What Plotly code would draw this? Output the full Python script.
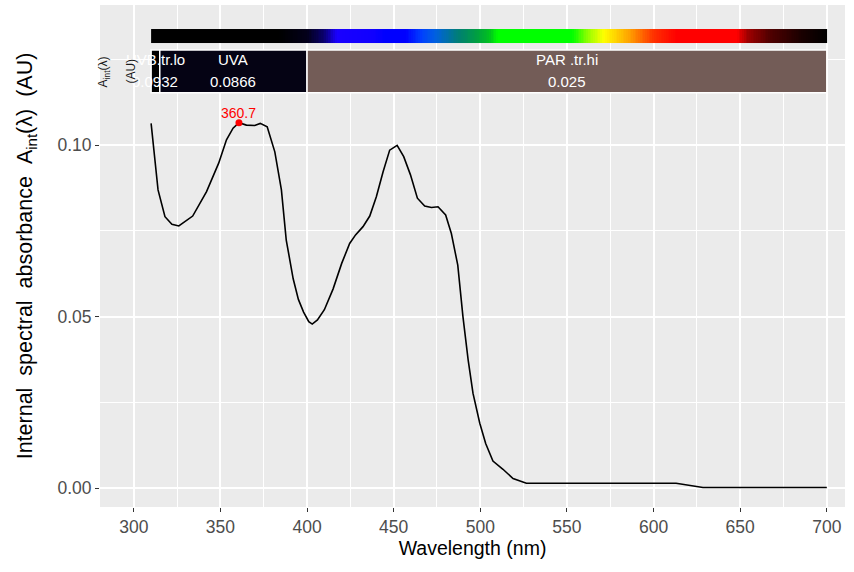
import plotly.graph_objects as go

# ---- data ----
wavelength = [310, 314, 318, 322, 326, 334, 342, 349, 353.5, 357.3, 360.7, 365, 369.8,
              373, 377, 381.4, 385.2, 388, 392, 395, 398, 401, 403, 406, 410, 415, 420,
              424.6, 428, 432.3, 436.2, 440, 443.9, 447.7, 452, 455.8, 459.7, 463.7,
              467.9, 471.8, 475.6, 480, 483.3, 487, 490, 493, 495.8, 499.7, 503.1,
              507.3, 513.1, 518.9, 526.6, 535, 548, 569, 590, 613, 628.5, 650, 675, 700]
absorbance = [0.1063, 0.0869, 0.0791, 0.0769, 0.0764, 0.0793, 0.0864, 0.0947, 0.1015,
              0.1049, 0.1065, 0.1058, 0.1057, 0.1063, 0.1053, 0.0980, 0.0869, 0.0723,
              0.0610, 0.0550, 0.0513, 0.0485, 0.0478, 0.0490, 0.0520, 0.0580, 0.0655,
              0.0713, 0.0738, 0.0762, 0.0793, 0.0849, 0.0922, 0.0985, 0.0999, 0.0966,
              0.0913, 0.0845, 0.0822, 0.0818, 0.0820, 0.0796, 0.0742, 0.0650, 0.0499,
              0.0373, 0.0276, 0.0189, 0.0130, 0.0079, 0.0055, 0.0028, 0.0014, 0.0014,
              0.0016, 0.0014, 0.0014, 0.0014, 0.0002, 0.0002, 0.0002, 0.0002]

peak_wl = 360.7
peak_val = 0.1065

band_names = ["UVB.tr.lo", "UVA", "PAR .tr.hi"]
band_lo = [310, 315, 400]
band_hi = [315, 400, 700]
band_values = ["0.0932", "0.0866", "0.025"]
band_colors = ["#000000", "#050314", "#735c57"]

x_ticks = [300, 350, 400, 450, 500, 550, 600, 650, 700]
y_ticks = [0.00, 0.05, 0.10]
y_tick_labels = ["0.00", "0.05", "0.10"]

# spectrum colour bar (wavelength -> colour stops)
spec_edges = list(range(310, 701))
spec_mid = [w + 0.5 for w in range(310, 700)]
spec_stops = [(310, "#000000"), (384, "#000000"), (400, "#03001a"), (410, "#0a0070"),
              (417, "#1a00ff"), (438, "#1000ff"), (445, "#0000ff"), (457, "#0000ff"),
              (466, "#0040ff"), (474, "#0060e0"), (488, "#008070"), (498, "#00a040"),
              (505, "#00c020"), (510, "#00ff00"), (553, "#00ff00"), (563, "#a0ff00"),
              (571, "#ffff00"), (586, "#ffa000"), (600, "#ff3000"), (613, "#ff0000"),
              (648, "#ff0000"), (654, "#a00000"), (667, "#500000"), (685, "#1a0000"),
              (700, "#000000")]

# ---- figure ----
font_family = "Liberation Sans, Arial, Helvetica, sans-serif"
fig = go.Figure()

colorscale = [[(w - 310) / 390, c] for w, c in spec_stops]
fig.add_trace(go.Heatmap(
    x=spec_edges, y=[0.1297, 0.1338], z=[spec_mid],
    colorscale=colorscale, zmin=310, zmax=700, showscale=False, hoverinfo="skip"))

fig.add_trace(go.Scatter(x=wavelength, y=absorbance, mode="lines",
                         line=dict(color="black", width=1.6), hoverinfo="skip",
                         showlegend=False))
fig.add_trace(go.Scatter(x=[peak_wl], y=[peak_val], mode="markers",
                         marker=dict(color="red", size=7), showlegend=False))

fig.add_annotation(x=peak_wl, y=peak_val, text="360.7", showarrow=False, yshift=10,
                   font=dict(color="red", size=14, family=font_family))

for name, lo, hi, val, col in zip(band_names, band_lo, band_hi, band_values, band_colors):
    fig.add_shape(type="rect", x0=lo, x1=hi, y0=0.1152, y1=0.1277,
                  fillcolor=col, line=dict(color="white", width=1.5), layer="above")
    mid = (lo + hi) / 2
    fig.add_annotation(x=mid, y=0.1248, text=name, showarrow=False,
                       font=dict(color="white", size=15, family=font_family))
    fig.add_annotation(x=mid, y=0.1184, text=val, showarrow=False,
                       font=dict(color="white", size=15, family=font_family))

fig.add_annotation(x=282.7, y=0.1214, text="A<sub>int</sub>(λ)", textangle=-90,
                   showarrow=False, font=dict(color="#1a1a1a", size=12, family=font_family))
fig.add_annotation(x=298.4, y=0.1214, text="(AU)", textangle=-90,
                   showarrow=False, font=dict(color="#1a1a1a", size=12, family=font_family))

gap = "\u00a0\u00a0"
y_title = gap.join(["Internal", "spectral", "absorbance", "A<sub>int</sub>(λ)", "(AU)"])

fig.update_layout(
    width=854, height=572,
    margin=dict(l=100, r=9, t=5, b=65),
    paper_bgcolor="white", plot_bgcolor="#EBEBEB",
    showlegend=False,
    font=dict(family=font_family, color="#4D4D4D"),
    xaxis=dict(range=[280.5, 710.5], tickvals=x_ticks, ticks="outside", ticklen=4,
               tickcolor="#333333", tickwidth=1.1, showgrid=True, gridcolor="white",
               gridwidth=1.6, zeroline=False, showline=False, automargin=False,
               tickfont=dict(size=17.5, color="#4D4D4D"),
               minor=dict(tickvals=[325, 375, 425, 475, 525, 575, 625, 675],
                          showgrid=True, gridcolor="white", gridwidth=0.8, ticks=""),
               title=dict(text="Wavelength (nm)", font=dict(size=19.5, color="black"),
                          standoff=5)),
    yaxis=dict(range=[-0.0055, 0.1408], tickvals=y_ticks, ticktext=y_tick_labels,
               ticks="outside", ticklen=4, tickcolor="#333333", tickwidth=1.1,
               showgrid=True, gridcolor="white", gridwidth=1.6, zeroline=False,
               showline=False, automargin=False, tickfont=dict(size=17.5, color="#4D4D4D"),
               minor=dict(tickvals=[0.025, 0.075, 0.125], showgrid=True,
                          gridcolor="white", gridwidth=0.8, ticks=""),
               title=dict(text=y_title, font=dict(size=21.5, color="black"), standoff=18)),
)

fig.write_html("out.html", config={"displayModeBar": False},
               post_script="document.body.style.margin='0';"
                           "document.documentElement.style.overflow='hidden';")
